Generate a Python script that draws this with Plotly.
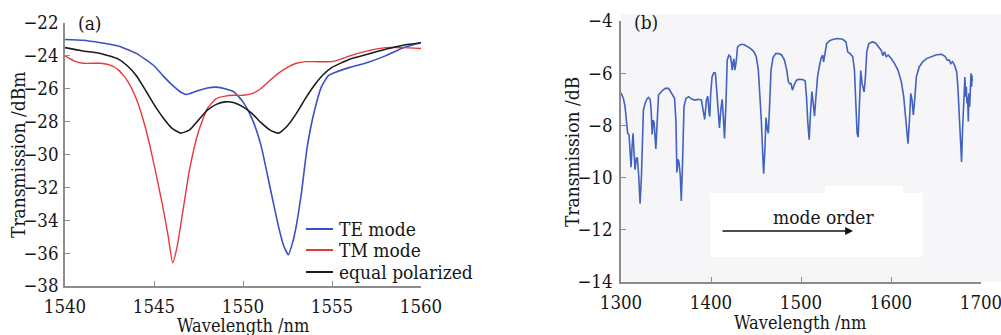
import plotly.graph_objects as go

# ---------------- Panel (a) data ----------------
te_wl = [1540, 1541, 1542, 1543, 1544, 1545, 1545.5, 1546, 1546.5, 1546.8, 1547, 1547.5, 1548,
         1548.5, 1549, 1549.5, 1550, 1550.5, 1551, 1551.5, 1552, 1552.3, 1552.55, 1552.8, 1553,
         1553.3, 1553.6, 1554, 1554.4, 1554.8, 1555.2, 1556, 1557, 1558, 1559, 1560]
te_mode = [-23.0, -23.05, -23.2, -23.4, -23.85, -24.6, -25.2, -25.75, -26.2, -26.35, -26.3, -26.1,
           -25.95, -25.9, -26.0, -26.2, -26.8, -27.8, -29.4, -31.9, -34.4, -35.6, -36.1, -35.3,
           -34.3, -32.2, -29.6, -27.4, -25.9, -25.2, -25.0, -24.7, -24.4, -24.0, -23.5, -23.2]
tm_wl = [1540, 1540.5, 1541, 1542, 1542.5, 1543, 1543.5, 1544, 1544.5, 1545, 1545.5, 1545.8,
         1546.05, 1546.3, 1546.6, 1547, 1547.5, 1548, 1548.5, 1549, 1549.5, 1550, 1550.5, 1551,
         1551.5, 1552, 1552.5, 1553, 1553.5, 1554, 1555, 1555.5, 1556, 1557, 1558, 1559, 1560]
tm_mode = [-24.0, -24.3, -24.45, -24.45, -24.55, -24.85, -25.5, -26.6, -28.3, -30.6, -33.2, -35.0,
           -36.6, -35.6, -33.6, -30.9, -28.6, -27.2, -26.6, -26.45, -26.4, -26.4, -26.3, -26.0,
           -25.5, -25.05, -24.7, -24.45, -24.35, -24.35, -24.35, -24.2, -24.0, -23.7, -23.5, -23.5,
           -23.55]
eq_wl = [1540, 1541, 1542, 1543, 1543.5, 1544, 1544.5, 1545, 1545.5, 1546, 1546.5, 1547, 1547.5,
         1548, 1548.5, 1549, 1549.5, 1550, 1550.5, 1551, 1551.5, 1552, 1552.5, 1553, 1553.5,
         1554, 1554.5, 1555, 1556, 1557, 1558, 1559, 1560]
equal_pol = [-23.5, -23.7, -23.85, -24.2, -24.6, -25.2, -26.05, -26.95, -27.75, -28.4, -28.7, -28.5,
             -27.9, -27.3, -26.95, -26.8, -26.85, -27.1, -27.5, -28.05, -28.5, -28.7, -28.25,
             -27.5, -26.6, -25.8, -25.15, -24.7, -24.2, -23.9, -23.6, -23.35, -23.2]
legend_names = ["TE mode", "TM mode", "equal polarized"]

# ---------------- Panel (b) data ----------------
wl_b = [1300, 1302.6, 1304.5, 1306.3, 1307.4, 1308.9, 1310.4, 1311.2, 1312.3, 1313.4, 1314.5,
        1315.6, 1317.1, 1318.2, 1319.7, 1321.2, 1322.7, 1323.8, 1324.9, 1326.8, 1328.7, 1330.5,
        1332.4, 1333.5, 1334.6, 1335.7, 1336.8, 1338.7, 1340.2, 1341.7, 1345.4, 1349.1, 1352.8,
        1356.6, 1359.5, 1361, 1362.1, 1363.3, 1364.4, 1365.9, 1367, 1368.5, 1370, 1372.2,
        1375.2, 1378.9, 1382.6, 1386.3, 1389.3, 1391.2, 1393.0, 1394.9, 1396.4, 1397.9, 1398.6,
        1399.7, 1401.2, 1403.1, 1404.9, 1406, 1407.9, 1409.4, 1410.9, 1412.4, 1413.9, 1415,
        1416.5, 1418, 1419.8, 1421.7, 1422.8, 1423.5, 1424.7, 1425.4, 1426.5, 1428, 1429.5,
        1432.9, 1436.6, 1440.3, 1444.1, 1447.7, 1450.3, 1452.6, 1454.4, 1455.9, 1457.4, 1458.5,
        1460, 1461.1, 1462.6, 1463.7, 1465.2, 1466.7, 1468.9, 1471.9, 1475.6, 1478.6, 1481.6,
        1484.2, 1486, 1487.5, 1489, 1490.5, 1492.3, 1494.9, 1497.9, 1501.6, 1504.6, 1506.1,
        1507.6, 1509.1, 1510.5, 1512.1, 1513.6, 1515.0, 1516.6, 1518.4, 1520.3, 1522.2, 1524,
        1525.1, 1526.6, 1528.5, 1531.4, 1535.2, 1540.8, 1546.3, 1550, 1551.9, 1554.5, 1557.5,
        1559.4, 1560.8, 1562.3, 1563.5, 1564.5, 1566.4, 1567.9, 1569, 1570.1, 1571.6, 1573.1,
        1575.3, 1579.1, 1582.8, 1586.5, 1589.1, 1591, 1592.8, 1594.7, 1596.9, 1600.3, 1604,
        1607.7, 1611.5, 1614.1, 1616, 1617.5, 1618.9, 1620.5, 1622, 1623.4, 1624.8, 1626.3,
        1628.2, 1631.3, 1635, 1639.4, 1645, 1650.5, 1656.2, 1660, 1662.6, 1664.9, 1666.3,
        1668.4, 1670.7, 1673, 1674.3, 1675.8, 1677.3, 1678.4, 1679.5, 1681, 1682.1, 1682.9,
        1683.7, 1684.4, 1685.2, 1685.9, 1686.6, 1687.4, 1688.1, 1688.9, 1689.6, 1690, 1690.3]
trans_b = [-6.75, -6.96, -7.28, -7.8, -8.3, -8.36, -9.06, -9.6, -8.8, -8.3, -9.06,
           -9.7, -9.25, -9.25, -9.95, -11.0, -9.95, -8.43, -7.4, -7.16, -7.0, -6.93,
           -7.0, -7.4, -8.35, -7.8, -7.9, -8.9, -7.66, -6.84, -6.68, -6.58, -6.58,
           -6.77, -6.96, -7.8, -9.8, -9.3, -9.4, -9.95, -10.9, -9.3, -7.28, -6.96,
           -6.9, -7.0, -7.03, -7.0, -7.03, -7.4, -7.77, -7.03, -6.88, -7.54, -7.66,
           -6.77, -6.14, -5.98, -6.0, -6.5, -7.66, -8.1, -7.4, -7.0, -7.78, -8.5,
           -7.28, -5.5, -5.31, -5.37, -5.63, -5.88, -5.56, -5.45, -5.88, -5.56, -4.99,
           -4.9, -4.9, -4.97, -5.06, -5.18, -5.37, -5.88, -6.77, -7.8, -9.06, -9.85,
           -8.81, -7.7, -8.17, -8.3, -7.16, -5.88, -5.4, -5.25, -5.25, -5.31, -5.5,
           -5.88, -6.33, -6.4, -6.4, -6.65, -6.46, -6.27, -6.23, -6.24, -6.29, -6.9,
           -7.9, -8.55, -7.54, -6.7, -7.16, -7.65, -6.9, -6.14, -5.76, -5.44, -5.31,
           -5.57, -5.25, -4.87, -4.76, -4.71, -4.67, -4.7, -4.8, -5.18, -5.25, -5.37,
           -5.88, -7.16, -8.3, -8.45, -7.54, -5.9, -6.4, -6.52, -6.72, -6.14, -5.18,
           -4.87, -4.8, -4.84, -4.99, -5.12, -5.33, -5.18, -5.37, -5.31, -5.44, -5.63,
           -5.88, -6.33, -6.9, -7.66, -8.3, -8.7, -7.8, -6.77, -7.03, -7.6, -7.03,
           -6.14, -5.76, -5.57, -5.44, -5.35, -5.29, -5.28, -5.35, -5.5, -5.5, -5.63,
           -5.56, -5.7, -5.95, -6.52, -7.8, -9.06, -9.4, -8.17, -6.52, -6.15, -6.9,
           -6.52, -7.16, -6.9, -7.85, -6.77, -7.28, -6.27, -6.0, -6.52, -6.08, -6.3]

# ---------------- styling ----------------
FONT = "DejaVu Serif Condensed, DejaVu Serif, serif"
TXT = "#161616"
AX = "#8c8c8c"
W, H = 1001, 335
COL_TE, COL_TM, COL_EQ, COL_B = "#3d4fc4", "#e8383c", "#1c1c1c", "#4262c0"

def px(x):
    return x / W

def py(y):
    return 1 - y / H

fig = go.Figure()
fig.add_trace(go.Scatter(x=te_wl, y=te_mode, mode="lines", name=legend_names[0],
                         line=dict(color=COL_TE, width=1.6, shape="spline", smoothing=0.5),
                         xaxis="x", yaxis="y"))
fig.add_trace(go.Scatter(x=tm_wl, y=tm_mode, mode="lines", name=legend_names[1],
                         line=dict(color=COL_TM, width=1.4, shape="spline", smoothing=0.5),
                         xaxis="x", yaxis="y"))
fig.add_trace(go.Scatter(x=eq_wl, y=equal_pol, mode="lines", name=legend_names[2],
                         line=dict(color=COL_EQ, width=1.6, shape="spline", smoothing=0.5),
                         xaxis="x", yaxis="y"))
fig.add_trace(go.Scatter(x=wl_b, y=trans_b, mode="lines",
                         line=dict(color=COL_B, width=1.6),
                         xaxis="x2", yaxis="y2"))

tickfont = dict(family=FONT, size=18.5, color=TXT)
axis_common = dict(showline=True, linecolor=AX, linewidth=1.5, ticks="inside", ticklen=5,
                   tickcolor=AX, tickwidth=1.2, showgrid=False, zeroline=False,
                   tickfont=tickfont, automargin=False, ticklabeloverflow="allow")

fig.update_layout(
    width=W, height=H,
    margin=dict(l=0, r=0, t=0, b=0),
    template="none",
    paper_bgcolor="white",
    plot_bgcolor="rgba(0,0,0,0)",
    showlegend=False,
    xaxis=dict(domain=[px(65), px(421)], range=[1540, 1560], tickvals=[1540, 1545, 1550, 1555, 1560],
               anchor="y", ticklabelstandoff=3, **axis_common),
    yaxis=dict(domain=[py(286), py(23)], range=[-38, -22], tickvals=list(range(-38, -21, 2)),
               anchor="x", ticklabelstandoff=1, **axis_common),
    xaxis2=dict(domain=[px(621), px(981)], range=[1300, 1700], tickvals=[1300, 1400, 1500, 1600, 1700],
                anchor="y2", ticklabelstandoff=3, **axis_common),
    yaxis2=dict(domain=[py(282), py(21)], range=[-14, -4], tickvals=list(range(-14, -3, 2)),
                anchor="x2", ticklabelstandoff=3, **axis_common),
)

shapes = [
    dict(type="rect", xref="paper", yref="paper", x0=px(621), x1=1, y0=py(282), y1=py(14),
         fillcolor="#f6f6f8", line=dict(width=0), layer="below"),
    dict(type="rect", xref="paper", yref="paper", x0=px(710), x1=px(923), y0=py(257), y1=py(193),
         fillcolor="white", line=dict(width=0), layer="below"),
    dict(type="rect", xref="paper", yref="paper", x0=px(825), x1=px(903), y0=py(193), y1=py(186),
         fillcolor="white", line=dict(width=0), layer="below"),
]
# manual legend lines
leg_rows = [229, 250, 272]
for yy, col in zip(leg_rows, [COL_TE, COL_TM, COL_EQ]):
    shapes.append(dict(type="line", xref="paper", yref="paper", x0=px(306), x1=px(333),
                       y0=py(yy), y1=py(yy), line=dict(color=col, width=2)))
fig.update_layout(shapes=shapes)

tf = dict(family=FONT, size=19, color=TXT)
tt = dict(family=FONT, size=18, color=TXT)
ann = [
    dict(text="(a)", x=px(76), y=py(23), xref="paper", yref="paper", xanchor="left", yanchor="middle",
         showarrow=False, font=tf),
    dict(text="(b)", x=px(632), y=py(22), xref="paper", yref="paper", xanchor="left", yanchor="middle",
         showarrow=False, font=tf),
    dict(text="Transmission /dBm", x=px(18), y=py(155), xref="paper", yref="paper", textangle=-90,
         xanchor="center", yanchor="middle", showarrow=False, font=tf),
    dict(text="Wavelength /nm", x=px(243), y=py(325), xref="paper", yref="paper",
         xanchor="center", yanchor="middle", showarrow=False, font=tt),
    dict(text="Transmission /dB", x=px(572), y=py(152), xref="paper", yref="paper", textangle=-90,
         xanchor="center", yanchor="middle", showarrow=False, font=tf),
    dict(text="Wavelength /nm", x=px(800), y=py(322), xref="paper", yref="paper",
         xanchor="center", yanchor="middle", showarrow=False, font=tt),
    dict(text="mode order", x=px(823), y=py(217), xref="paper", yref="paper",
         xanchor="center", yanchor="middle", showarrow=False, font=tf),
    dict(text="", x=px(853), y=py(231), ax=-132, ay=0, xref="paper", yref="paper",
         axref="pixel", ayref="pixel", showarrow=True, arrowhead=2, arrowsize=1.2, arrowwidth=1.3,
         arrowcolor="#111"),
]
for yy, name in zip(leg_rows, legend_names):
    ann.append(dict(text=name, x=px(337), y=py(yy), xref="paper", yref="paper", xanchor="left",
                    yanchor="middle", showarrow=False, font=tf))
fig.update_layout(annotations=ann)

fig.write_html("out.html")
